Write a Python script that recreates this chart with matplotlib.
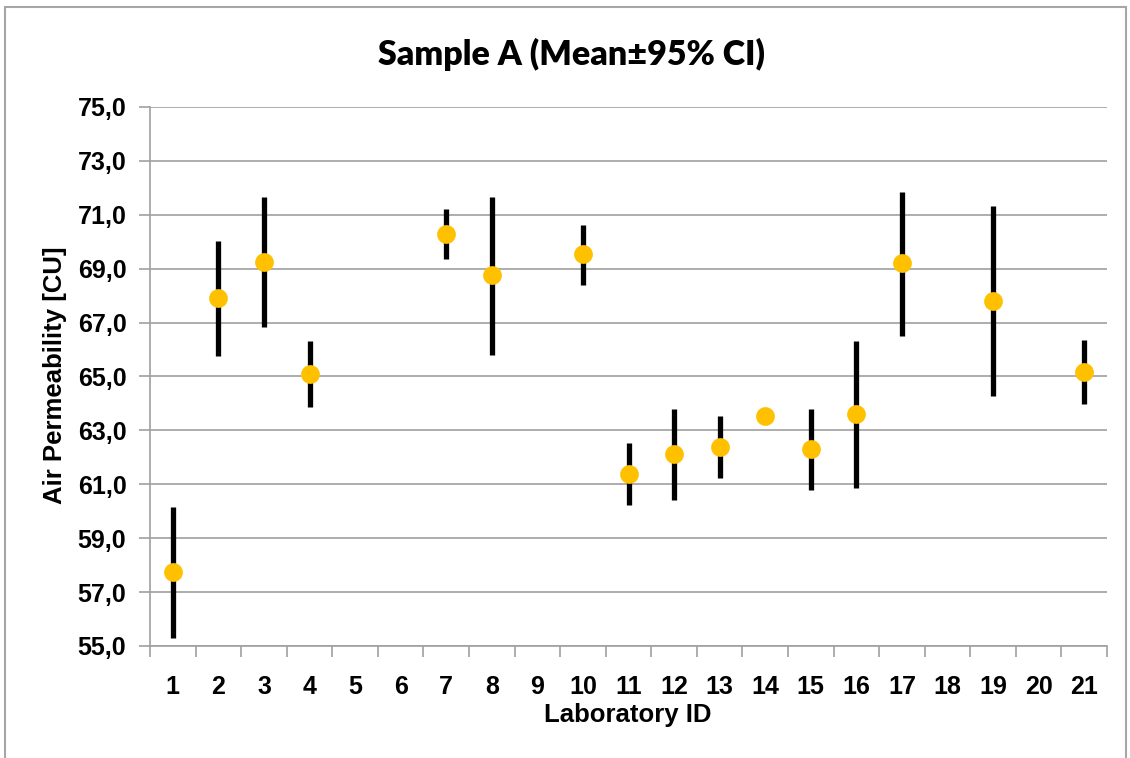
import numpy as np
import matplotlib
matplotlib.use("Agg")
import matplotlib.pyplot as plt
from matplotlib.patches import Rectangle
from matplotlib.ticker import FixedLocator, FuncFormatter

# Lab IDs shown on the axis and the readings (nan = no result)
lab_ids = ["1", "2", "3", "4", "5", "6", "7", "8", "9", "10", "11",
           "12", "13", "14", "15", "16", "17", "18", "19", "20", "21"]
nan = np.nan
mean = [57.73, 67.91, 69.24, 65.09, nan, nan, 70.30, 68.75, nan, 69.53, 61.37,
        62.11, 62.40, 63.52, 62.32, 63.61, 69.20, nan, 67.80, nan, 65.18]
ci_low = [55.30, 65.75, 66.82, 63.85, nan, nan, 69.37, 65.78, nan, 68.40, 60.23,
          60.42, 61.25, 63.52, 60.80, 60.88, 66.50, nan, 64.26, nan, 63.97]
ci_high = [60.15, 70.01, 71.66, 66.31, nan, nan, 71.21, 71.67, nan, 70.64, 62.52,
           63.78, 63.54, 63.52, 63.81, 66.31, 71.85, nan, 71.33, nan, 66.36]

W, H = 1130, 758
fig = plt.figure(figsize=(W / 100, H / 100), dpi=100)
ax = fig.add_axes([150 / W, 1 - 646 / H, (1107 - 150) / W, (646 - 107) / H])

x = np.arange(len(lab_ids))
mean = np.array(mean)
err = np.array([mean - np.array(ci_low), np.array(ci_high) - mean])

# error bars first, then the yellow means on top
ax.errorbar(x, mean, yerr=err, fmt="none", ecolor="black", elinewidth=3.8,
            capsize=0, zorder=3)
ax.plot(x, mean, "o", color="#FFC000", markersize=13.5, markeredgewidth=0, zorder=4)

ax.set_xlim(-0.5, len(lab_ids) - 0.5)
ax.set_ylim(55, 75)
ax.set_yticks(np.arange(55, 75.1, 2))
ax.yaxis.set_major_formatter(FuncFormatter(lambda v, p: f"{v:.1f}".replace(".", ",")))
ax.grid(axis="y", color="#A0A0A0", linewidth=1.2)
ax.set_axisbelow(True)

ax.set_xticks(x)
ax.set_xticklabels(lab_ids)
ax.xaxis.set_minor_locator(FixedLocator(np.arange(-0.5, len(lab_ids), 1)))
ax.tick_params(axis="x", which="major", length=0, pad=21)
ax.tick_params(axis="x", which="minor", length=8, color="#A0A0A0", width=1.2)
ax.tick_params(axis="y", length=8, color="#A0A0A0", width=1.2, pad=9)

for lbl in ax.get_xticklabels() + ax.get_yticklabels():
    lbl.set_fontfamily("Liberation Sans")
    lbl.set_fontweight("bold")
    lbl.set_fontsize(18)

for s in ["top", "right"]:
    ax.spines[s].set_visible(False)
for s in ["left", "bottom"]:
    ax.spines[s].set_color("#A0A0A0")
    ax.spines[s].set_linewidth(1.2)

fig.text(571 / W, 1 - 54 / H, "Sample A (Mean\u00b195% CI)", ha="center", va="center",
         fontsize=24.5, fontweight="heavy", family="Lato")
fig.text(628 / W, 1 - 715 / H, "Laboratory ID", ha="center", va="center",
         fontsize=18.5, fontweight="bold", family="Liberation Sans")
fig.text(55 / W, 1 - 375 / H, "Air Permeability [CU]", ha="center", va="center",
         rotation=90, fontsize=18.5, fontweight="bold", family="Liberation Sans")

# outer chart border
fig.patches.append(Rectangle((5 / W, -0.01), (1126 - 5) / W, 1 - 7 / H + 0.01,
                             transform=fig.transFigure, fill=False,
                             edgecolor="#A6A6A6", linewidth=1.5))

fig.savefig("out.png", dpi=100)
